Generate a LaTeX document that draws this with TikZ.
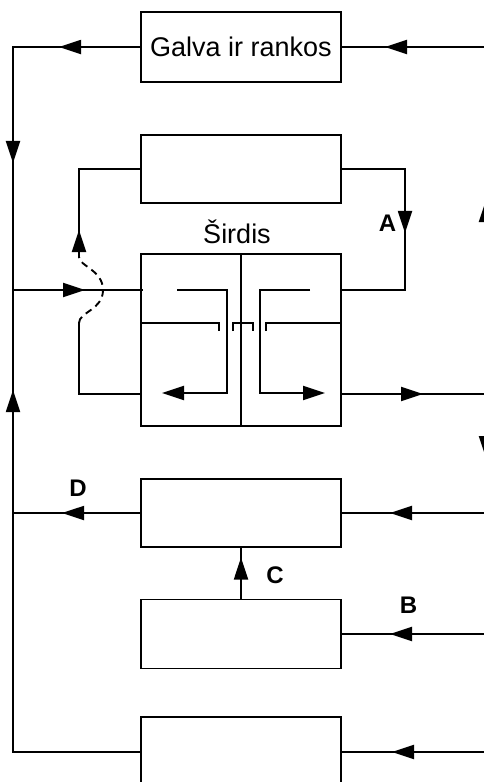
\documentclass[tikz,border=0pt]{standalone}
\usepackage{fontspec}
\setmainfont{Liberation Sans}
\usetikzlibrary{arrows.meta,decorations.markings}
\tikzset{
blokas/.style={draw,minimum width=200pt,minimum height=#1,inner sep=0pt},
blokas/.default=68pt,
raide/.style={font=\fontsize{24}{28}\selectfont\bfseries},
flow at/.style={postaction={decorate,decoration={markings,mark=at position #1 with {\arrow{>}}}}}
}
\begin{document}
\begin{tikzpicture}[x=1pt,y=-1pt,line width=1.9pt,>={Triangle[length=22pt,width=14pt]},font=\fontsize{27}{32}\selectfont]
\useasboundingbox (0,0) rectangle (483,782);
\node[blokas=70pt] (galva) at (241,47) {Galva ir rankos};
\node[blokas] (plauciai) at (241,169) {};
\node[blokas=172pt] (sirdis) at (241,340) {};
\node[blokas] (kepenys) at (241,513) {};
\node[blokas=69pt] (zarnynas) at (241,634) {};
\node[blokas=70pt] (kojos) at (241,752) {};
\node[anchor=base] (sirdisT) at (237,243) {Širdis};
\node[raide] (A) at (387.5,223.5) {A};
\node[raide] (B) at (408.5,605) {B};
\node[raide] (C) at (275,575.5) {C};
\node[raide] (D) at (78,488) {D};
\coordinate (galvaK) at (13,47);
\coordinate (kaire) at (13,290);
\coordinate (kepenysK) at (13,513);
\coordinate (kojosK) at (13,752);
\coordinate (ieitis) at (143,290);
\coordinate (isejimasK) at (141,394);
\coordinate (kampasK) at (79,394);
\coordinate (lankasA) at (79,323);
\coordinate (lankasB) at (79,257);
\coordinate (plauciaiK) at (79,169);
\coordinate (plauciaiD) at (405,169);
\coordinate (kampasD) at (405,290);
\coordinate (ieitisD) at (341,290);
\coordinate (isejimasD) at (341,394);
\coordinate (d1) at (490,47);
\coordinate (d3) at (490,394);
\coordinate (d4) at (490,513);
\coordinate (d5) at (490,634);
\coordinate (d6) at (490,752);
\coordinate (r1a) at (486,260);
\coordinate (r1b) at (486,150);
\coordinate (r2a) at (486,400);
\coordinate (r2b) at (486,520);
\draw[flow at=105pt] (d1) -- (galva.east);
\draw[flow at=81pt,flow at=243pt] (galva.west) -- (galvaK) -- (kaire);
\draw[flow at=489pt] (kojos.west) -- (kojosK) -- (kaire);
\draw[flow at=72pt] (kaire) -- (ieitis);
\draw[flow at=78pt] (kepenys.west) -- (kepenysK);
\draw (isejimasK) -- (kampasK) -- (lankasA);
\draw[dash pattern=on 7pt off 5pt] (lankasA) .. controls (79,312) and (103,310) .. (103,290) .. controls (103,270) and (79,266) .. (lankasB);
\draw[flow at=27pt] (lankasB) -- (plauciaiK) -- (plauciai.west);
\draw[flow at=127pt] (plauciai.east) -- (plauciaiD) -- (kampasD) -- (ieitisD);
\draw[flow at=82pt] (isejimasD) -- (d3);
\draw[flow at=100pt] (d4) -- (kepenys.east);
\draw[flow at=100pt] (d5) -- (zarnynas.east);
\draw[flow at=98pt] (d6) -- (kojos.east);
\draw[flow at=41pt] (zarnynas.north) -- (kepenys.south);
\draw[flow at=60pt] (r1a) -- (r1b);
\draw[flow at=58pt] (r2a) -- (r2b);
\draw (sirdis.north) -- (sirdis.south);
\draw[->] (177,290) -- (227,290) -- (227,393) -- (162,393);
\draw[->] (310,290) -- (260,290) -- (260,393) -- (325,393);
\draw (141,323) -- (219,323) -- (219,331);
\draw (233,331) -- (233,323) -- (253,323) -- (253,331);
\draw (266,331) -- (266,323) -- (341,323);
\end{tikzpicture}
\end{document}
